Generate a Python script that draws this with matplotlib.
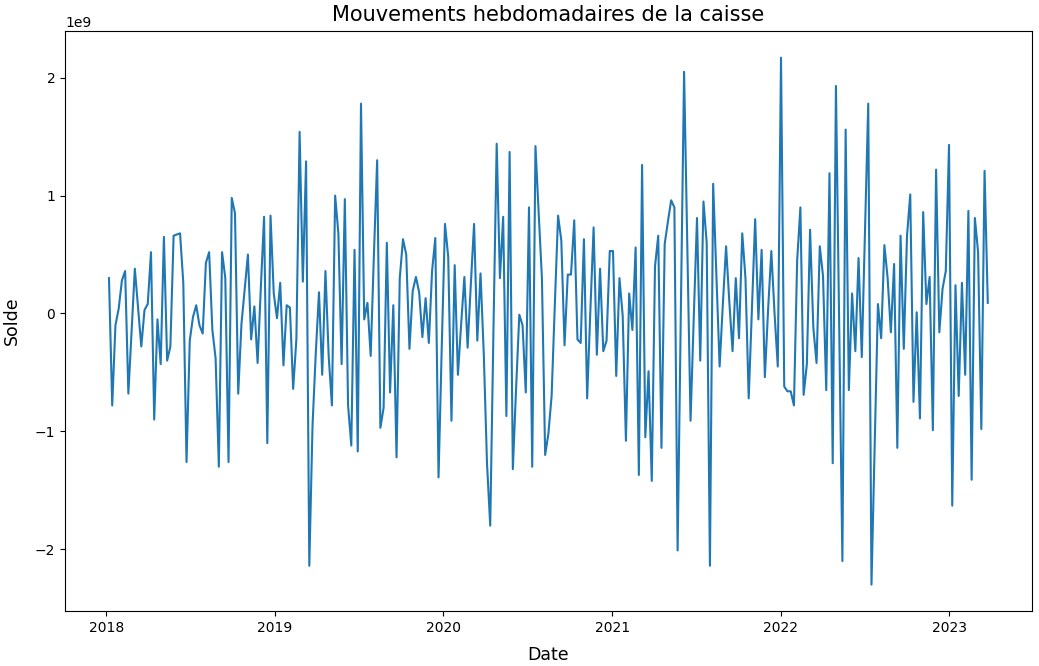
import matplotlib
matplotlib.use("Agg")
import matplotlib.pyplot as plt
import pandas as pd

# weekly cash balance, in units of 1e9
solde_mrd = [
    0.30, -0.78, -0.10, 0.04, 0.28, 0.36, -0.68, -0.15, 0.38, 0.05,
    -0.28, 0.03, 0.08, 0.52, -0.90, -0.05, -0.43, 0.65, -0.40, -0.28,
    0.66, 0.67, 0.68, 0.26, -1.26, -0.23, -0.03, 0.07, -0.10, -0.17,
    0.43, 0.52, -0.14, -0.38, -1.30, 0.52, 0.30, -1.26, 0.98, 0.85,
    -0.68, -0.09, 0.20, 0.50, -0.22, 0.06, -0.42, 0.22, 0.82, -1.10,
    0.83, 0.17, -0.04, 0.26, -0.44, 0.07, 0.05, -0.64, -0.22, 1.54,
    0.27, 1.29, -2.14, -0.95, -0.34, 0.18, -0.52, 0.36, -0.36, -0.78,
    1.00, 0.68, -0.43, 0.97, -0.78, -1.12, 0.54, -1.17, 1.78, -0.05,
    0.09, -0.36, 0.50, 1.30, -0.97, -0.80, 0.60, -0.67, 0.07, -1.22,
    0.30, 0.63, 0.50, -0.30, 0.19, 0.31, 0.18, -0.20, 0.13, -0.25,
    0.36, 0.64, -1.39, -0.28, 0.76, 0.48, -0.91, 0.41, -0.52, -0.09,
    0.31, -0.29, 0.25, 0.76, -0.23, 0.34, -0.34, -1.27, -1.80, -0.14,
    1.44, 0.30, 0.82, -0.87, 1.37, -1.32, -0.64, -0.01, -0.10, -0.67,
    0.90, -1.30, 1.42, 0.85, 0.30, -1.20, -1.02, -0.70, 0.08, 0.83,
    0.62, -0.27, 0.33, 0.33, 0.79, -0.22, -0.25, 0.63, -0.72, 0.03,
    0.73, -0.35, 0.38, -0.32, -0.23, 0.53, 0.53, -0.53, 0.30, -0.02,
    -1.08, 0.17, -0.14, 0.56, -1.37, 1.26, -1.05, -0.49, -1.42, 0.40,
    0.66, -1.14, 0.59, 0.78, 0.96, 0.90, -2.01, 0.05, 2.05, 0.58,
    -0.91, -0.03, 0.81, -0.40, 0.95, 0.60, -2.14, 1.10, 0.33, -0.45,
    0.08, 0.57, 0.10, -0.32, 0.30, -0.21, 0.68, 0.30, -0.72, 0.05,
    0.80, -0.05, 0.54, -0.54, 0.03, 0.53, 0.00, -0.45, 2.17, -0.62,
    -0.66, -0.66, -0.78, 0.45, 0.90, -0.69, -0.43, 0.71, -0.12, -0.42,
    0.57, 0.32, -0.65, 1.19, -1.27, 1.93, -0.06, -2.10, 1.56, -0.65,
    0.17, -0.32, 0.47, -0.37, 0.72, 1.78, -2.30, -1.12, 0.08, -0.21,
    0.58, 0.30, -0.16, 0.42, -1.14, 0.66, -0.30, 0.66, 1.01, -0.75,
    0.01, -0.89, 0.86, 0.08, 0.31, -0.99, 1.22, -0.16, 0.21, 0.36,
    1.43, -1.63, 0.24, -0.70, 0.26, -0.52, 0.87, -1.41, 0.81, 0.52,
    -0.98, 1.21, 0.09,
]
dates = pd.date_range("2018-01-07", periods=len(solde_mrd), freq="W")
solde = pd.Series([v * 1e9 for v in solde_mrd], index=dates)

fig = plt.figure(figsize=(10.39, 6.66), dpi=100)
ax = fig.add_axes([0.0626, 0.0826, 0.9304, 0.8704])
ax.plot(solde.index, solde.values)
ax.set_title("Mouvements hebdomadaires de la caisse", fontsize=15, pad=7.5)
ax.set_xlabel("Date", fontsize=12.5, labelpad=8)
ax.set_ylabel("Solde", fontsize=12.5, labelpad=10)

fig.savefig("out.png", dpi=100)
